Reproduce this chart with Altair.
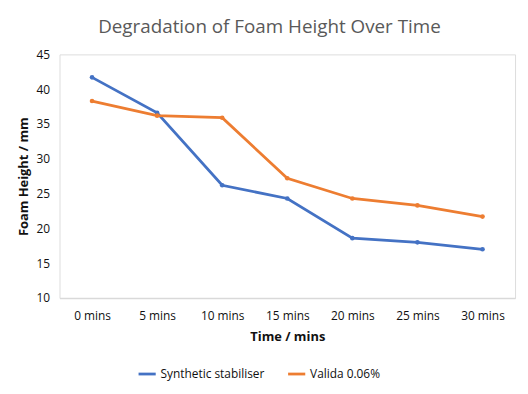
import altair as alt
import pandas as pd

times = ["0 mins", "5 mins", "10 mins", "15 mins", "20 mins", "25 mins", "30 mins"]
synthetic = [41.7, 36.6, 26.2, 24.3, 18.6, 18.0, 17.0]
valida = [38.3, 36.2, 35.9, 27.2, 24.3, 23.3, 21.7]
series_names = ["Synthetic stabiliser", "Valida 0.06%"]

rows = []
for t, v in zip(times, synthetic):
    rows.append({"Time": t, "Height": v, "Series": series_names[0]})
for t, v in zip(times, valida):
    rows.append({"Time": t, "Height": v, "Series": series_names[1]})
df = pd.DataFrame(rows)

font = "Open Sans"

chart = alt.Chart(df).mark_line(
    point=alt.OverlayMarkDef(size=22, filled=True), strokeWidth=2.8
).encode(
    x=alt.X("Time:N", sort=times, scale=alt.Scale(type="point", padding=0.5),
            axis=alt.Axis(title="Time / mins", labelAngle=0, ticks=False,
                          domainColor="#d9d9d9", domainWidth=1.5, labelPadding=13,
                          labelFontSize=12, labelColor="#111111",
                          titleFontSize=13, titleFontWeight="bold",
                          titleColor="#111111", titlePadding=9)),
    y=alt.Y("Height:Q", scale=alt.Scale(domain=[10, 45]),
            axis=alt.Axis(title="Foam Height / mm", values=[10, 15, 20, 25, 30, 35, 40, 45],
                          grid=False, domain=False, ticks=False, labelPadding=10,
                          labelFontSize=12, labelColor="#111111",
                          titleFontSize=13, titleFontWeight="bold",
                          titleColor="#111111", titlePadding=6)),
    color=alt.Color("Series:N", sort=series_names,
                    scale=alt.Scale(domain=series_names, range=["#4472C4", "#ED7D31"]),
                    legend=alt.Legend(title=None, orient="none", direction="horizontal",
                                      legendX=78, legendY=312,
                                      symbolType="stroke", symbolStrokeWidth=2.8,
                                      symbolSize=300, labelFontSize=12,
                                      labelColor="#111111", columnPadding=18,
                                      labelOffset=3)),
).properties(
    width=460, height=246,
    padding={"left": 9, "right": 5, "top": 8, "bottom": 5},
    title=alt.TitleParams("Degradation of Foam Height Over Time", fontSize=19,
                          fontWeight="normal", color="#595959", font=font,
                          offset=12, dx=-18)
).configure_view(stroke=None).configure(font=font)

chart.save("out.html", embed_options={"renderer": "svg", "actions": False})
